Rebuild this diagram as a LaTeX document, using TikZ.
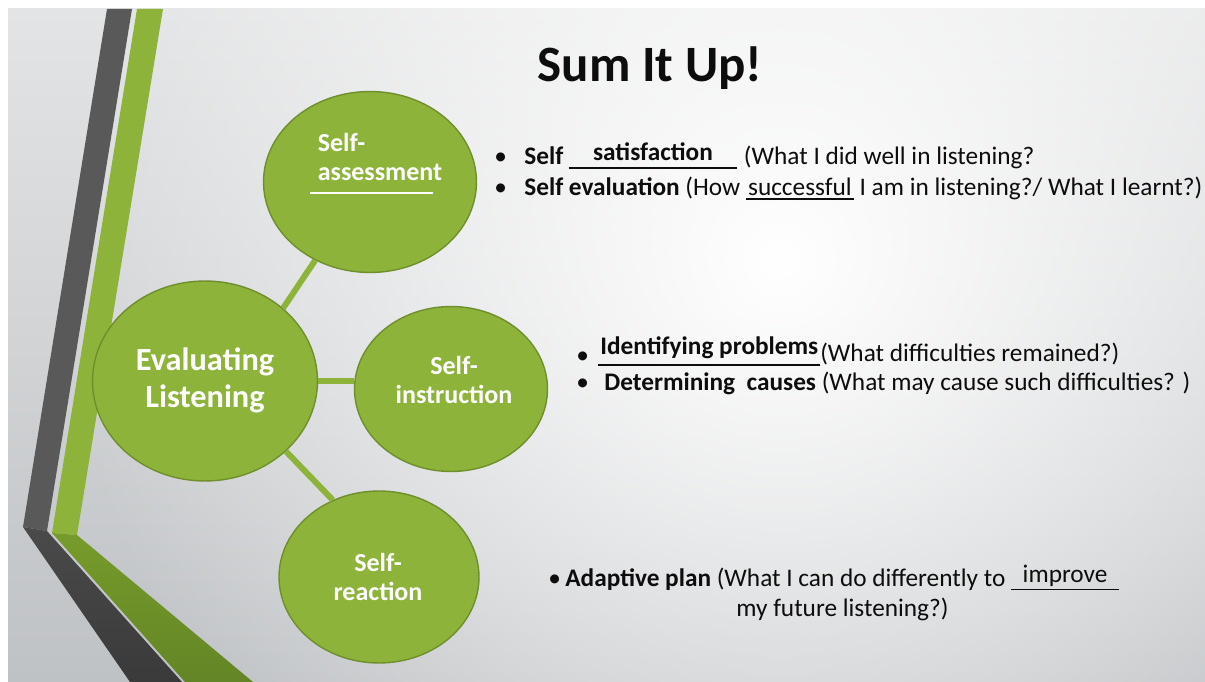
\documentclass[tikz,border=0pt]{standalone}
\usepackage{fontspec}
\setmainfont{Carlito}
\usetikzlibrary{positioning,shapes.geometric,fadings}
\definecolor{sgreen}{HTML}{8DB33A}
\definecolor{sgreenedge}{HTML}{6F8F2C}
\definecolor{sdark}{HTML}{595959}
\definecolor{sdarklowA}{HTML}{4A4A4A}
\definecolor{sdarklowB}{HTML}{3A3A3A}
\definecolor{sgreenlowA}{HTML}{779B2B}
\definecolor{sgreenlowB}{HTML}{638526}
\definecolor{bgtop}{HTML}{E3E4E5}
\definecolor{bgbot}{HTML}{BFC2C5}
\definecolor{ink}{HTML}{0D0D0D}
\tikzfading[name=glow, inner color=transparent!0, outer color=transparent!100]
\newcommand\fillin[2]{\leavevmode\vtop{\hbox to #1{\hfil#2\hfil}\kern1.2pt\hrule height 0.9pt}}
\tikzset{
  bubble/.style={ellipse, draw=sgreenedge, fill=sgreen, line width=0.8pt, inner sep=0pt},
  bubtext/.style={text=white, align=center, inner sep=0pt, font=\fontsize{14.8}{16.8}\selectfont\bfseries},
  link/.style={draw=sgreen, line width=3.4pt},
  title/.style={text=ink, inner sep=0pt, font=\fontsize{29}{34}\selectfont\bfseries},
  body/.style={text=ink, anchor=base west, inner sep=0pt, font=\fontsize{14.4}{17}\selectfont},
  bullet/.style={body}
}
\begin{document}
\begin{tikzpicture}[x=0.02cm,y=-0.02cm]
  \useasboundingbox (0,0) rectangle (1205,682);
  \fill[white] (0,0) rectangle (1205,682);
  % slide background
  \shade[top color=bgtop, bottom color=bgbot] (8,9) rectangle (1205,682);
  \fill[white, path fading=glow] (780,260) circle (720);

  % side bands
  \fill[sdark] (107,9) -- (132,9) -- (47,531) -- (23,527) -- cycle;
  \fill[sgreen] (137,9) -- (163,9) -- (77,535) -- (52,533) -- cycle;
  \shade[top color=sdarklowA, bottom color=sdarklowB] (23,527) -- (47,531) -- (182,682) -- (130,682) -- cycle;
  \shade[top color=sgreenlowA, bottom color=sgreenlowB] (52,533) -- (77,535) -- (253,682) -- (185,682) -- cycle;

  \node[title] (title) at (650,68) {Sum It Up!};

  % bubbles
  \node[bubble, minimum width=4.5cm, minimum height=4cm] (eval) at (205,381) {};
  \node[bubble, minimum width=4.26cm, minimum height=3.62cm] (assess) at (370,182) {};
  \node[bubble, minimum width=3.86cm, minimum height=3.3cm] (instr) at (451,389) {};
  \node[bubble, minimum width=4cm, minimum height=3.44cm] (react) at (379,577) {};
  \draw[link] (eval.43) -- (assess.235);
  \draw[link] (eval.east) -- (eval.east -| instr.west);
  \draw[link] (eval.-41) -- (react.121);

  \node[bubtext, font=\fontsize{18.4}{21.2}\selectfont\bfseries] (evaltxt) at (205,380) {Evaluating\\Listening};
  \node[bubtext, align=left] (assesstxt) at (380,157) {Self-\\assessment};
  \draw[white, line width=1pt] ([shift={(-7,12)}]assesstxt.south west) -- ([shift={(-10,12)}]assesstxt.south east);
  \node[bubtext] (instrtxt) at (454,380) {Self-\\instruction};
  \node[bubtext] (reacttxt) at (378,577) {Self-\\reaction};

  % points
  \node[bullet] (d1) at (494,165) {•};
  \node[body] (r1) at (524,165) {\textbf{Self} \fillin{3.36cm}{\raisebox{2.5pt}{\bfseries satisfaction}}\hspace{4pt}(What I did well in listening?};
  \node[bullet] (d2) at (494,196) {•};
  \node[body] (r2) at (524,196) {\textbf{Self evaluation} (How \fillin{2.16cm}{successful} I am in listening?/ What I learnt?)};
  \node[bullet] (d3) at (576,364) {•};
  \node[body] (r3) at (598,362) {\fillin{4.44cm}{\raisebox{4pt}{\bfseries Identifying problems}}(What difficulties remained?)};
  \node[bullet] (d4) at (576,391) {•};
  \node[body] (r4) at (604,391) {\textbf{Determining\ \ causes} (What may cause such difficulties? )};
  \node[bullet] (d5) at (548,586) {•};
  \node[body] (r5) at (565,586) {\textbf{Adaptive plan} (What I can do differently to \fillin{2.16cm}{\raisebox{2pt}{improve}}};
  \node[body] (r6) at (736,617) {my future listening?)};
\end{tikzpicture}
\end{document}
